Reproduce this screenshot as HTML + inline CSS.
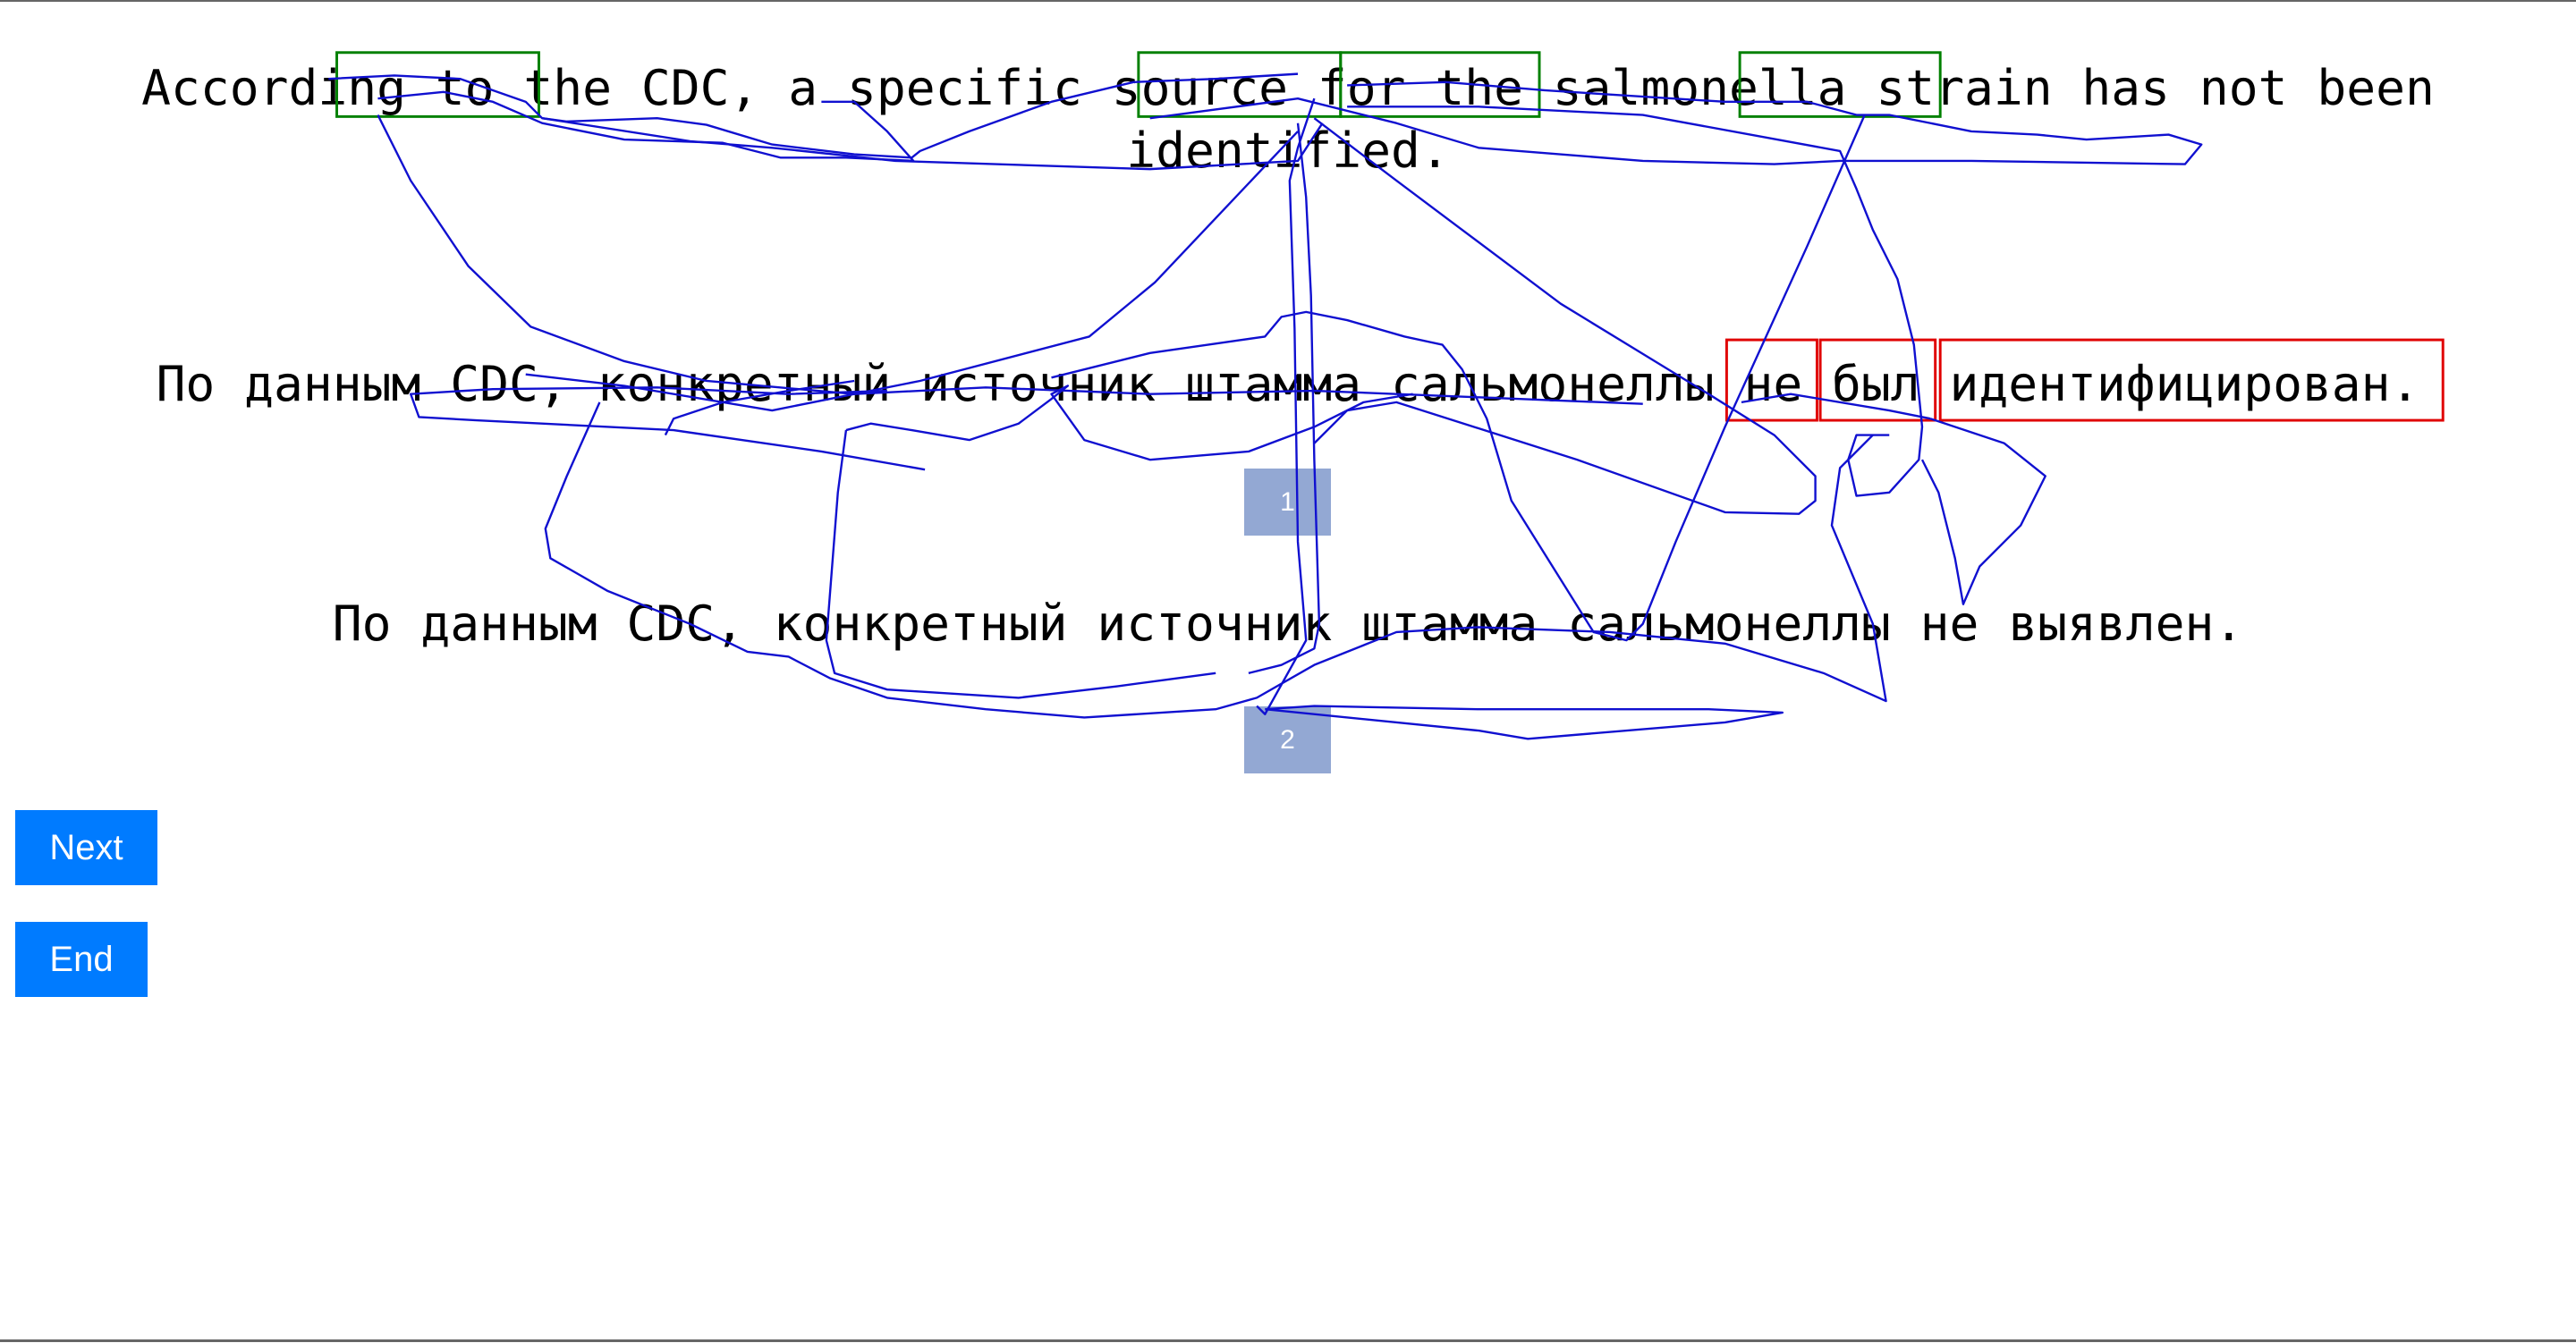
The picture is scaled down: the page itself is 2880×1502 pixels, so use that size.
<!DOCTYPE html>
<html><head><meta charset="utf-8"><style>
html,body{margin:0;padding:0;width:2880px;height:1502px;overflow:hidden;background:#fff;position:relative}
.t{position:absolute;left:0;width:2880px;text-align:center;font-family:"DejaVu Sans Mono","Liberation Mono",monospace;font-size:54.6px;line-height:70px;color:#000;white-space:pre}
.b{position:absolute;background:#93a8d3;color:#fff;font-family:"Liberation Sans",sans-serif;font-size:30px;display:flex;align-items:center;justify-content:center}
.btn{position:absolute;background:#007bff;color:#fff;font-family:"Liberation Sans",sans-serif;font-size:40px;display:flex;align-items:center;justify-content:center}
svg{position:absolute;left:0;top:0}
</style></head><body>
<div style="position:absolute;left:0;top:0;width:2880px;height:2px;background:#666"></div>
<div style="position:absolute;left:0;top:1498px;width:2880px;height:3px;background:#666"></div>
<div class="t" style="top:63px">According to the CDC, a specific source for the salmonella strain has not been
identified.</div>
<div class="t" style="top:394px">По данным CDC, конкретный источник штамма сальмонеллы не был идентифицирован.</div>
<div class="t" style="top:662px">По данным CDC, конкретный источник штамма сальмонеллы не выявлен.</div>
<div class="b" style="left:1391px;top:524px;width:97px;height:75px">1</div>
<div class="b" style="left:1391px;top:790px;width:97px;height:75px">2</div>
<div class="btn" style="left:17px;top:906px;width:159px;height:84px">Next</div>
<div class="btn" style="left:17px;top:1031px;width:148px;height:84px">End</div>
<svg width="2880" height="1502" viewBox="0 0 1568 818" preserveAspectRatio="none">
<g fill="none" stroke-width="1.6">
<rect x="205" y="32" width="123" height="39" stroke="#008000"/>
<rect x="693" y="32" width="123" height="39" stroke="#008000"/>
<rect x="816" y="32" width="121" height="39" stroke="#008000"/>
<rect x="1059" y="32" width="122" height="39" stroke="#008000"/>
<rect x="1051" y="207" width="55" height="49" stroke="#e00000"/>
<rect x="1108" y="207" width="70" height="49" stroke="#e00000"/>
<rect x="1181" y="207" width="306" height="49" stroke="#e00000"/>
</g>
<g fill="none" stroke="#1010d0" stroke-width="1.3" stroke-linejoin="round">
<polyline points="200,48 240,46 280,48 320,62 330,72 345,74 400,72 430,76 470,88 520,94 555,96 560,92 590,80 640,62 690,50 740,48 790,45"/>
<polyline points="230,60 270,56 300,62 330,75 380,85 440,87 475,96 515,96 556,98 540,80 520,62 500,62"/>
<polyline points="330,72 420,86 470,90 545,98 700,103 790,98 805,75"/>
<polyline points="700,72 790,60 830,70 850,75 900,90 1000,98 1080,100 1120,98 1200,98 1330,100 1340,88 1320,82 1270,85 1240,82 1200,80 1150,70 1130,70 1100,62 1050,62 940,55 880,50 820,52"/>
<polyline points="820,65 900,65 1000,70 1120,92 1130,115 1140,140 1155,170 1165,210 1170,260 1168,280 1150,300 1130,302 1125,280 1130,265 1150,265"/>
<polyline points="800,72 850,110 950,185 1040,240 1080,265 1105,290 1105,305 1095,313 1050,312 960,280 850,245 820,250 800,270"/>
<polyline points="1135,70 1100,150 1050,260 1020,330 1000,380 990,390 970,385 920,305 905,255 890,225 878,210 855,205 820,195 795,190 780,193 770,205 700,215 640,230"/>
<polyline points="790,75 795,120 798,180 800,280 803,380 800,395 780,405 760,410"/>
<polyline points="800,60 790,90 785,110 788,200 790,330 795,390 770,435 765,430"/>
<polyline points="790,80 703,172 663,205 560,232 470,250 380,235 320,228"/>
<polyline points="230,70 250,110 285,162 323,199 380,220 430,232 520,240 600,236 700,240 800,238 900,242 1000,246"/>
<polyline points="563,286 500,275 410,262 290,256 255,254 250,240 300,237 400,236 480,240 540,238"/>
<polyline points="365,245 345,290 332,322 335,340 370,360 420,380 455,397 480,400 505,413 540,425 600,432 660,437 740,432 765,425 800,405 850,385 900,382 980,385 1050,392 1110,410 1148,427 1140,380 1115,320 1120,285 1140,265"/>
<polyline points="515,262 510,300 503,390 508,410 540,420 620,425 680,418 740,410"/>
<polyline points="770,432 900,445 930,450 1050,440 1085,434 1040,432 900,432 800,430 770,432"/>
<polyline points="515,262 530,258 555,262 590,268 620,258 640,243 650,235 640,240 660,268 700,280 760,275 800,260 830,245 860,240"/>
<polyline points="405,265 410,255 440,245 480,238 520,232"/>
<polyline points="1175,255 1220,270 1245,290 1230,320 1205,345 1195,368 1190,340 1180,300 1170,280"/>
<polyline points="1060,245 1090,240 1150,250 1175,255"/>
</g>
</svg>
</body></html>
